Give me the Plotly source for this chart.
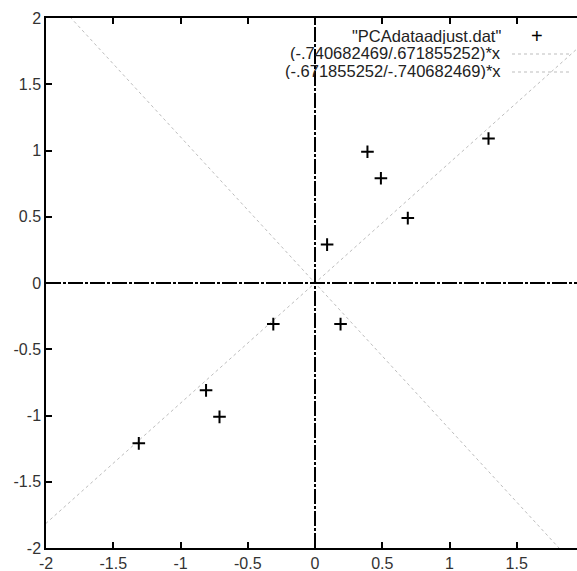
import numpy as np
import plotly.graph_objects as go

# data (PCA adjusted data)
x_vals = [0.69, -1.31, 0.39, 0.09, 1.29, 0.49, 0.19, -0.81, -0.31, -0.71]
y_vals = [0.49, -1.21, 0.99, 0.29, 1.09, 0.79, -0.31, -0.81, -0.31, -1.01]
eig1 = (-.740682469, .671855252)
eig2 = (-.671855252, -.740682469)
series_names = ['"PCAdataadjust.dat"', '(-.740682469/.671855252)*x', '(-.671855252/-.740682469)*x']
tick_vals = [-2, -1.5, -1, -0.5, 0, 0.5, 1, 1.5, 2]
tick_text = ["-2", "-1.5", "-1", "-0.5", "0", "0.5", "1", "1.5", "2"]

FONT = "Liberation Sans, Arial, sans-serif"
fx = np.array([-3.0, 3.0])

fig = go.Figure()
fig.add_trace(go.Scatter(x=fx, y=(eig1[0] / eig1[1]) * fx, mode="lines",
                         line=dict(color="#bdbdbd", width=1, dash="dot"), showlegend=False))
fig.add_trace(go.Scatter(x=fx, y=(eig2[0] / eig2[1]) * fx, mode="lines",
                         line=dict(color="#bdbdbd", width=1, dash="dot"), showlegend=False))
fig.add_trace(go.Scatter(x=x_vals, y=y_vals, mode="markers",
                         marker=dict(symbol="cross-thin-open", size=9, color="black",
                                     line=dict(color="black", width=2)),
                         showlegend=False))

dash = "15px,2px,3px,2px"
fig.add_shape(type="line", xref="x", yref="paper", x0=0, x1=0, y0=0, y1=1,
              line=dict(color="black", width=2, dash=dash))
fig.add_shape(type="line", xref="paper", yref="y", x0=0, x1=1, y0=0, y1=0,
              line=dict(color="black", width=2, dash=dash))

# legend (gnuplot-style: text right, key on right)
leg_y = [35, 53, 71]
for i, name in enumerate(series_names):
    fig.add_annotation(xref="paper", yref="paper", x=(502 - 46) / 531, y=1 - (leg_y[i] - 18) / 530,
                       text=name, showarrow=False, xanchor="right", yanchor="middle",
                       height=17, valign="middle", borderpad=0,
                       font=dict(family=FONT, size=16.5, color="#222"))
fig.add_annotation(xref="paper", yref="paper", x=(537 - 46) / 531, y=1 - (leg_y[0] - 18) / 530,
                   text="+", showarrow=False, xanchor="center", yanchor="middle",
                   height=17, borderpad=0,
                   font=dict(family=FONT, size=20, color="black"))
for i in (1, 2):
    yy = 1 - (leg_y[i] + 1 - 18) / 530
    fig.add_shape(type="line", xref="paper", yref="paper", x0=(512 - 46) / 531, x1=(570 - 46) / 531,
                  y0=yy, y1=yy, line=dict(color="#bdbdbd", width=1, dash="dot"))

axis_common = dict(showgrid=False, zeroline=False, showline=True, linecolor="black", linewidth=1.5,
                   ticks="inside", ticklen=6, tickcolor="black", tickwidth=1.5,
                   tickvals=tick_vals, ticktext=tick_text, automargin=False,
                   tickfont=dict(family=FONT, size=16, color="#333"))
fig.update_xaxes(range=[-2, 1.948], mirror="ticks", **axis_common)
fig.update_yaxes(range=[-2, 2], mirror=False, **axis_common)

fig.update_layout(width=577, height=571, margin=dict(l=46, r=0, t=18, b=23),
                  plot_bgcolor="white", paper_bgcolor="white", showlegend=False)
fig.write_html("out.html", config={"displayModeBar": False},
               post_script="document.body.style.margin='0';document.body.style.overflow='hidden';")
